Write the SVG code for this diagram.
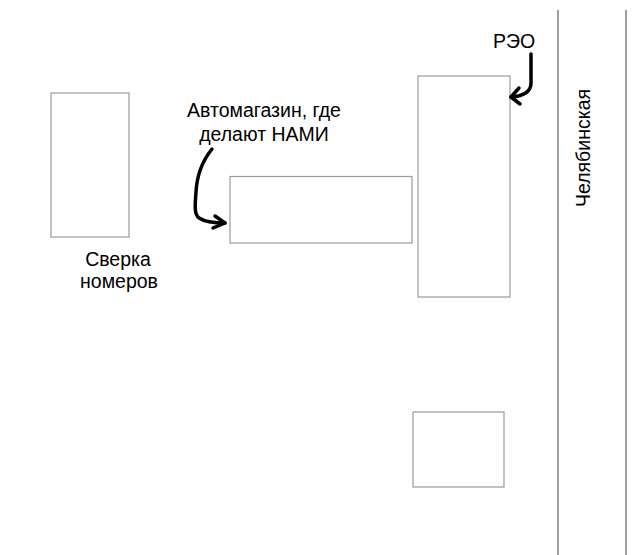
<svg xmlns="http://www.w3.org/2000/svg" width="640" height="555" viewBox="0 0 640 555">
<style>
.box{fill:#fff;stroke:#9a9a9a;stroke-width:1.2}
.road{stroke:#808080;stroke-width:1.5;fill:none}
.lbl{font-family:"Liberation Sans",Arial,sans-serif;font-size:19.5px;fill:#000}
.hand{fill:none;stroke:#000;stroke-width:3.5;stroke-linecap:round;stroke-linejoin:round}
</style>
<rect width="640" height="555" fill="#fff"/>
<g id="road">
<line class="road" x1="558" y1="10" x2="558" y2="555"/>
<line class="road" x1="626" y1="10" x2="626" y2="555"/>
<text class="lbl" transform="translate(590,148) rotate(-90)" text-anchor="middle">Челябинская</text>
</g>
<g id="sverka">
<rect class="box" x="51" y="93" width="78" height="144"/>
<text class="lbl" x="118" y="266" text-anchor="middle">Сверка</text>
<text class="lbl" x="119" y="288" text-anchor="middle">номеров</text>
</g>
<g id="avtomagazin">
<rect class="box" x="230" y="176.5" width="182" height="66.5"/>
<text class="lbl" x="264" y="117" text-anchor="middle">Автомагазин, где</text>
<text class="lbl" x="264" y="141" text-anchor="middle">делают НАМИ</text>
</g>
<g id="reo">
<rect class="box" x="418" y="76" width="92" height="221"/>
<text class="lbl" x="514" y="48" text-anchor="middle">РЭО</text>
</g>
<g id="small">
<rect class="box" x="413" y="412" width="91" height="75"/>
</g>
<g id="connectors">
<path class="hand" d="M212,149 C203,160 197,175 196,192 C195,205 194,214 199,218 C205,222 214,223 225,223"/>
<path class="hand" d="M215,216 L225,223 L213,228"/>
<path class="hand" d="M531,54 L531,83 C531,92 524,96 511,97"/>
<path class="hand" d="M519,88 L511,97 L520,104"/>
</g>
</svg>
